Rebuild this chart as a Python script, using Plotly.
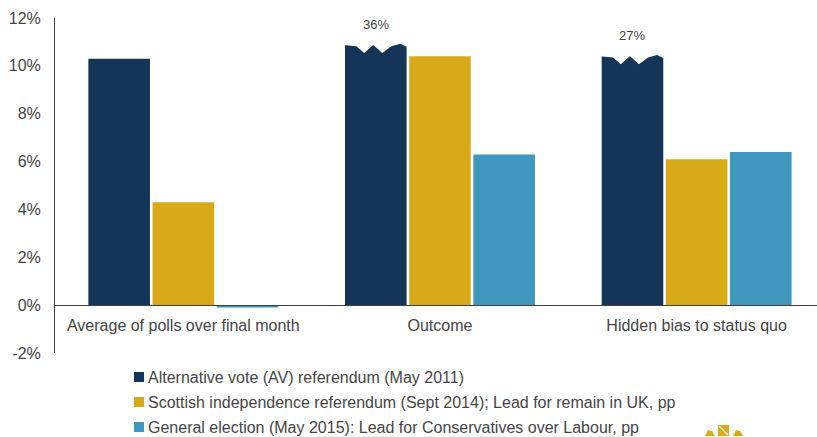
import plotly.graph_objects as go

# ---- data -------------------------------------------------------------
categories = ["Average of polls over final month", "Outcome", "Hidden bias to status quo"]
series_names = [
    "Alternative vote (AV) referendum (May 2011)",
    "Scottish independence referendum (Sept 2014); Lead for remain in UK, pp",
    "General election (May 2015): Lead for Conservatives over Labour, pp",
]
av_referendum = [10.3, 36, 27]
scottish_referendum = [4.3, 10.4, 6.1]
general_election = [-0.1, 6.3, 6.4]
y_ticks = [-2, 0, 2, 4, 6, 8, 10, 12]

# ---- style ------------------------------------------------------------
colors = ["#143458", "#d8aa1a", "#4097bd"]
text_color = "#454545"
axis_color = "#404040"
font_family = "Liberation Sans, Arial, sans-serif"
W, H = 817, 437
M_L, M_R, M_T, M_B = 55, 0, 18, 84
Y_MIN, Y_MAX = -2, 12
BARGAP, GROUPGAP = 0.25, 0.04
X_RANGE = [-0.5, 2.469]

plot_w = W - M_L - M_R
plot_h = H - M_T - M_B


def px_x(px):
    return (px - M_L) / plot_w


def px_y(py):
    return (H - M_B - py) / plot_h


xs = list(range(len(categories)))
all_series = [av_referendum, scottish_referendum, general_election]

fig = go.Figure()
for name, vals, col in zip(series_names, all_series, colors):
    fig.add_trace(go.Bar(x=xs, y=vals, name=name, marker=dict(color=col, line=dict(width=0)),
                         showlegend=False, hoverinfo="skip"))

# ---- broken-axis markers for bars running past the top of the scale -----
n = len(all_series)
slot = (1 - BARGAP) / n
bar_w = slot * (1 - GROUPGAP)
zig = [(0.0, -0.05), (0.2, -0.1), (0.32, -0.38), (0.46, -0.05), (0.6, -0.38),
       (0.74, -0.1), (0.88, 0.0), (1.0, -0.15)]
shapes = []
annotations = []
for si, vals in enumerate(all_series):
    for ci, v in enumerate(vals):
        if v <= Y_MAX:
            continue
        center = ci - (1 - BARGAP) / 2 + (si + 0.5) * slot
        left, right = center - bar_w / 2 - 0.006, center + bar_w / 2 + 0.006
        cut = 10.92 if v > 30 else 10.45
        pts = [(left + t * (right - left), cut + dy) for t, dy in zig]
        path = f"M{left},{Y_MAX + 1} " + " ".join(f"L{x},{y}" for x, y in pts) + f" L{right},{Y_MAX + 1} Z"
        shapes.append(dict(type="path", path=path, xref="x", yref="y", fillcolor="white",
                           line=dict(width=0), layer="above"))
        annotations.append(dict(x=center, y=cut + 0.8, xref="x", yref="y", text=f"{v:.0f}%",
                                showarrow=False, font=dict(size=13, color=text_color, family=font_family)))

# ---- legend drawn as swatches + text ------------------------------------
legend_rows = [377, 402, 427]
for name, col, py in zip(series_names, colors, legend_rows):
    shapes.append(dict(type="rect", xref="paper", yref="paper",
                       x0=px_x(134), x1=px_x(144), y0=px_y(py + 5), y1=px_y(py - 5),
                       fillcolor=col, line=dict(width=0)))
    annotations.append(dict(x=px_x(146), y=px_y(py), xref="paper", yref="paper", text=name,
                            xanchor="left", yanchor="middle", showarrow=False,
                            font=dict(size=16, color=text_color, family=font_family)))

# ---- small emblem, bottom right -----------------------------------------
gold = "#d9ab1c"
shapes.append(dict(type="rect", xref="paper", yref="paper", x0=px_x(718), x1=px_x(729),
                   y0=px_y(436), y1=px_y(425), fillcolor=gold, line=dict(width=0)))
shapes.append(dict(type="line", xref="paper", yref="paper", x0=px_x(719), x1=px_x(728),
                   y0=px_y(426), y1=px_y(435), line=dict(color="white", width=1.2)))
for cx in (710, 738):
    shapes.append(dict(type="path", xref="paper", yref="paper",
                       path=(f"M{px_x(cx - 5)},{px_y(436)} L{px_x(cx + 5)},{px_y(436)} "
                             f"L{px_x(cx + 2)},{px_y(431)} L{px_x(cx - 2)},{px_y(430)} Z"),
                       fillcolor=gold, line=dict(width=0)))

fig.update_layout(
    width=W, height=H,
    margin=dict(l=M_L, r=M_R, t=M_T, b=M_B),
    paper_bgcolor="white", plot_bgcolor="white",
    barmode="group", bargap=BARGAP, bargroupgap=GROUPGAP,
    font=dict(family=font_family, color=text_color, size=16),
    shapes=shapes, annotations=annotations,
    showlegend=False,
)
fig.update_xaxes(
    range=X_RANGE, tickvals=xs, ticktext=categories,
    showgrid=False, zeroline=False, showline=True, linecolor=axis_color, linewidth=1,
    ticks="", anchor="free", position=(0 - Y_MIN) / (Y_MAX - Y_MIN),
    ticklabelstandoff=6, tickfont=dict(size=16, color=text_color),
)
fig.update_yaxes(
    range=[Y_MIN, Y_MAX], tickvals=y_ticks, ticktext=[f"{t}%" for t in y_ticks],
    showgrid=False, zeroline=False, showline=True, linecolor=axis_color, linewidth=1,
    ticks="", ticklabelstandoff=10, tickfont=dict(size=16, color=text_color),
)

fig.write_html("out.html")
